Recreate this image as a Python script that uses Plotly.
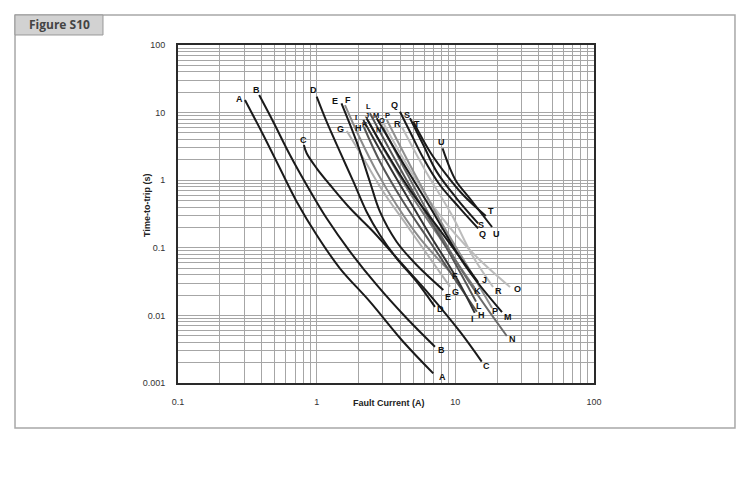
import math
import plotly.graph_objects as go

# ---- curve data: fault current (A) vs time-to-trip (s) ----
A_amps = [0.304, 0.412, 0.543, 0.718, 1.0, 1.47, 2.42, 4.21, 6.93]
A_secs = [15.4, 4.66, 1.50, 0.481, 0.155, 0.0498, 0.016, 0.00408, 0.00139]
B_amps = [0.385, 0.486, 0.642, 0.847, 1.18, 1.74, 2.71, 4.46, 7.13]
B_secs = [18.2, 7.33, 2.36, 0.849, 0.273, 0.0877, 0.0282, 0.00906, 0.00344]
C_amps = [0.809, 0.847, 1.0, 1.25, 1.74, 2.56, 3.99, 6.56, 10.8, 15.5]
C_secs = [3.32, 2.5, 1.5, 0.849, 0.384, 0.173, 0.0622, 0.02, 0.00574, 0.00207]
D_amps = [1.0, 1.18, 1.47, 1.84, 2.29, 2.86, 3.77, 5.26, 7.13]
D_secs = [17.2, 7.33, 2.64, 0.95, 0.342, 0.155, 0.07, 0.0316, 0.0134]
E_amps = [1.51, 1.94, 2.42, 2.86, 3.77, 5.26, 8.19]
E_secs = [13.7, 3.71, 0.95, 0.342, 0.123, 0.0557, 0.0238]
F_amps = [1.6, 2.05, 2.71, 3.77, 5.56, 9.15]
F_secs = [12.9, 4.17, 1.34, 0.43, 0.138, 0.0443]
G_amps = [1.65, 2.17, 3.02, 4.46, 6.56, 9.15]
G_secs = [5.34, 2.11, 0.676, 0.217, 0.07, 0.0266]
H_amps = [2.19, 2.86, 4.21, 6.56, 10.2, 14.3]
H_secs = [6.12, 1.88, 0.481, 0.123, 0.0316, 0.0113]
I_amps = [2.17, 2.86, 4.21, 6.56, 10.2, 13.8]
I_secs = [7.78, 2.8, 0.716, 0.155, 0.0357, 0.0109]
J_amps = [2.29, 3.1, 4.71, 7.74, 14.6]
J_secs = [8.24, 2.8, 0.716, 0.183, 0.0312]
K_amps = [2.36, 3.16, 4.71, 7.74, 13.8]
K_secs = [7.51, 2.52, 0.647, 0.14, 0.0254]
L_amps = [2.42, 3.37, 5.12, 8.41, 14.1]
L_secs = [9.77, 2.8, 0.604, 0.11, 0.016]
M_amps = [2.71, 3.99, 6.56, 12.1, 21.7]
M_secs = [8.24, 2.13, 0.402, 0.0502, 0.0112]
N_amps = [3.0, 4.34, 7.13, 12.7, 23.5]
N_secs = [6.12, 1.42, 0.217, 0.0301, 0.00496]
O_amps = [3.0, 4.71, 7.74, 13.8, 24.8]
O_secs = [7.26, 1.42, 0.305, 0.0782, 0.0263]
P_amps = [3.21, 4.71, 7.74, 12.7, 18.4]
P_secs = [7.78, 1.68, 0.258, 0.047, 0.01286]
Q_amps = [3.99, 4.71, 5.88, 7.74, 10.8, 14.6]
Q_secs = [10.3, 5.21, 2.11, 0.849, 0.384, 0.194]
R_amps = [4.12, 6.04, 9.44, 13.2, 18.7]
R_secs = [6.12, 1.42, 0.305, 0.0782, 0.0263]
S_amps = [4.71, 5.88, 7.33, 10.2, 14.6]
S_secs = [8.24, 3.32, 1.34, 0.54, 0.23]
T_amps = [4.97, 6.56, 8.65, 11.4, 16.6]
T_secs = [7.33, 2.64, 1.19, 0.604, 0.295]
U_amps = [8.09, 9.15, 10.2, 12.7, 18.4]
U_secs = [2.96, 1.5, 0.95, 0.54, 0.203]

x_ticks = [0.1, 1, 10, 100]
x_tick_text = ["0.1", "1", "10", "100"]
y_ticks = [0.001, 0.01, 0.1, 1, 10, 100]
y_tick_text = ["0.001", "0.01", "0.1", "1", "10", "100"]

curves = {
    "A": (A_amps, A_secs), "B": (B_amps, B_secs), "C": (C_amps, C_secs),
    "D": (D_amps, D_secs), "E": (E_amps, E_secs), "F": (F_amps, F_secs),
    "G": (G_amps, G_secs), "H": (H_amps, H_secs), "I": (I_amps, I_secs),
    "J": (J_amps, J_secs), "K": (K_amps, K_secs), "L": (L_amps, L_secs),
    "M": (M_amps, M_secs), "N": (N_amps, N_secs), "O": (O_amps, O_secs),
    "P": (P_amps, P_secs), "Q": (Q_amps, Q_secs), "R": (R_amps, R_secs),
    "S": (S_amps, S_secs), "T": (T_amps, T_secs), "U": (U_amps, U_secs),
}

# line colours
BLK = "#1a1a1a"
colours = {
    "A": BLK, "B": BLK, "C": BLK, "D": BLK, "E": BLK,
    "F": "#8a8a8a", "G": "#b0b0b0", "H": "#555555", "I": "#333333", "J": BLK,
    "K": "#777777", "L": "#555555", "M": BLK, "N": "#6a6a6a", "O": "#bcbcbc",
    "P": "#8f8f8f", "Q": BLK, "R": "#bcbcbc", "S": BLK, "T": BLK, "U": BLK,
}

# label offsets in px (start label, end label), y up
offsets = {
    "A": ((-5, 1), (9, -4)), "B": ((-3, 5), (7, -3)), "C": ((0, 5), (5, -4)),
    "D": ((-3, 7), (6, -2)), "E": ((-6, 2), (5, -7)), "F": ((3, 5), (5, -4)),
    "G": ((-6, 2), (6, -5)), "H": ((-5, -1), (5, -3)), "I": ((-7, 2), (-2, -6)),
    "J": ((0, 3), (6, 2)), "K": ((-3, -3), (3, -3)), "L": ((-1, 7), (3, -4)),
    "M": ((-1, 3), (6, -5)), "N": ((-4, -2), (6, -3)), "O": ((-1, 2), (7, -2)),
    "P": ((1, 4), (3, -3)), "Q": ((-6, 7), (4, -6)), "R": ((-4, 3), (5, -4)),
    "S": ((-3, 3), (3, -2)), "T": ((4, -2), (5, 5)), "U": ((-1, 6), (4, -7)),
}
# crowded start labels get a smaller letter
small_start = {"I", "J", "K", "L", "M", "N", "O", "P"}

fig = go.Figure()

# draw grey ones first so black sits on top
order = sorted(curves, key=lambda k: colours[k] == BLK)
for name in order:
    xs, ys = curves[name]
    fig.add_trace(go.Scatter(
        x=xs, y=ys, mode="lines",
        line=dict(color=colours[name], width=2, shape="spline", smoothing=1.0),
        showlegend=False, hoverinfo="skip"))

# letter labels at both ends (annotations on log axes take log10 positions)
for name, (xs, ys) in curves.items():
    (sx, sy), (ex, ey) = offsets[name]
    ends = ((xs[0], ys[0], sx, sy, 7.5 if name in small_start else 9),
            (xs[-1], ys[-1], ex, ey, 9))
    for px, py, dx, dy, fs in ends:
        fig.add_annotation(x=math.log10(px), y=math.log10(py), xref="x", yref="y",
                           text="<b>%s</b>" % name, showarrow=False,
                           xanchor="center", yanchor="middle",
                           xshift=dx, yshift=dy,
                           font=dict(family="Liberation Sans, Arial", size=fs,
                                     color="#111111"))

grid_col = "#a6a6a6"
axis_common = dict(
    type="log", showgrid=True, gridcolor=grid_col, gridwidth=1,
    minor=dict(dtick="D1", showgrid=True, gridcolor=grid_col, gridwidth=1),
    showline=True, linecolor="#2a2a2a", linewidth=2, mirror=True,
    ticks="outside", ticklen=9, tickcolor="rgba(0,0,0,0)",
    tickfont=dict(family="Liberation Sans, Arial", size=9, color="#333"),
    zeroline=False)
fig.update_xaxes(range=[-1, 2], tickvals=x_ticks, ticktext=x_tick_text, **axis_common)
fig.update_yaxes(range=[-3, 2], tickvals=y_ticks, ticktext=y_tick_text, **axis_common)

# axis titles
fig.add_annotation(x=0.508, y=0, xref="paper", yref="paper", yshift=-20,
                   xanchor="center", yanchor="middle",
                   text="<b>Fault Current (A)</b>", showarrow=False,
                   font=dict(family="Liberation Sans, Arial", size=9, color="#222"))
fig.add_annotation(x=0, y=0.524, xref="paper", yref="paper", xshift=-31,
                   xanchor="center", yanchor="middle",
                   text="<b>Time-to-trip (s)</b>", showarrow=False, textangle=-90,
                   font=dict(family="Liberation Sans, Arial", size=9, color="#222"))

# outer frame and tab
fig.add_shape(type="rect", xref="paper", yref="paper", x0=-0.3918, x1=1.3389,
              y0=-0.1331, y1=1.0888, line=dict(color="#a8a8a8", width=1.5))
fig.add_shape(type="rect", xref="paper", yref="paper", x0=-0.3918, x1=-0.1803,
              y0=1.0296, y1=1.0888, line=dict(color="#999999", width=1),
              fillcolor="#d2d2d2")
fig.add_annotation(x=-0.286, y=1.0592, xref="paper", yref="paper",
                   xanchor="center", yanchor="middle",
                   text="<b>Figure S10</b>", showarrow=False,
                   font=dict(family="Open Sans", size=12, color="#444444"))

fig.update_layout(width=750, height=477, template="none",
                  margin=dict(l=178, r=156, t=45, b=94),
                  paper_bgcolor="white", plot_bgcolor="white")

fig.write_html("out.html", config={"displayModeBar": False},
               post_script="document.body.style.margin='0';")
